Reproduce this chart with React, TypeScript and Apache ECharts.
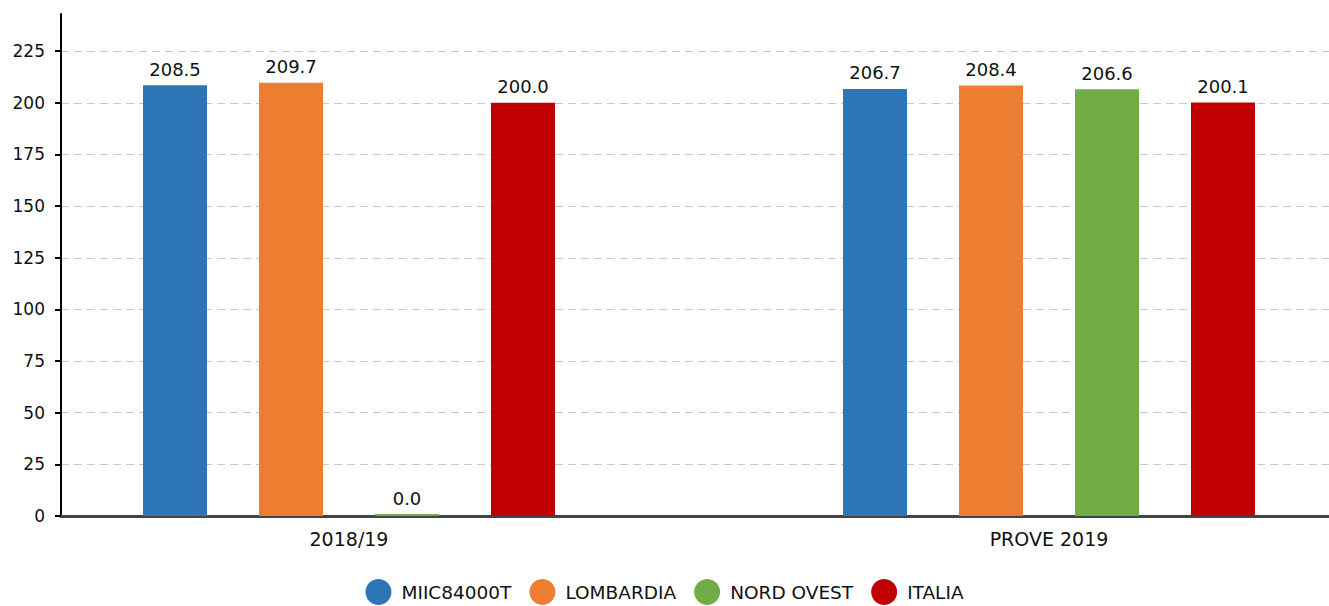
import React, { useEffect, useRef } from "react";
import * as echarts from "echarts";

const categories = ["2018/19", "PROVE 2019"];
const seriesNames = ["MIIC84000T", "LOMBARDIA", "NORD OVEST", "ITALIA"];
const miic = [208.5, 206.7];
const lombardia = [209.7, 208.4];
const nordOvest = [0.0, 206.6];
const italia = [200.0, 200.1];
const yTicks = [0, 25, 50, 75, 100, 125, 150, 175, 200, 225];
const yMax = 243;

const colors = ["#2E75B6", "#ED7D31", "#70AD47", "#C00000"];
const FONT = "DejaVu Sans";

export default function App() {
  const ref = useRef<HTMLDivElement>(null);
  useEffect(() => {
    if (!ref.current) return;
    const chart = echarts.init(ref.current, undefined, { renderer: "svg" });
    const values = [miic, lombardia, nordOvest, italia];
    chart.setOption({
      animation: false,
      backgroundColor: "#ffffff",
      legend: {
        top: 574,
        left: "center",
        icon: "circle",
        itemWidth: 36,
        itemHeight: 26,
        itemGap: 18,
        textStyle: { fontFamily: FONT, fontSize: 18.5, color: "#111" },
        data: seriesNames,
      },
      grid: [
        { left: 61, right: 0, top: 14, bottom: 90, outerBoundsMode: "none" },
        { left: -1, right: -70, top: 14, bottom: 90, outerBoundsMode: "none" },
      ],
      xAxis: [
        {
          type: "value",
          gridIndex: 0,
          min: 0,
          max: 1,
          axisLine: { show: true, onZero: true, lineStyle: { color: "#444", width: 3 } },
          axisTick: { show: false },
          axisLabel: { show: false },
          splitLine: { show: false },
        },
        {
          type: "category",
          gridIndex: 1,
          data: categories,
          axisLine: { show: false },
          axisTick: { show: false },
          axisLabel: {
            margin: 13,
            fontFamily: FONT,
            fontSize: 19,
            color: "#111",
          },
          splitLine: { show: false },
        },
      ],
      yAxis: [
        {
          type: "value",
          gridIndex: 0,
          min: 0,
          max: yMax,
          interval: 25,
          axisLine: { show: true, lineStyle: { color: "#000", width: 2 } },
          axisTick: {
            show: true,
            length: 6,
            lineStyle: { color: "#000", width: 2 },
            customValues: yTicks,
          },
          axisLabel: {
            margin: 16,
            fontFamily: FONT,
            fontSize: 17,
            color: "#111",
            customValues: yTicks,
          },
          splitLine: {
            show: true,
            lineStyle: { color: "#c8c8c8", type: [8, 5], width: 1 },
          },
        },
        {
          type: "value",
          gridIndex: 1,
          min: 0,
          max: yMax,
          show: false,
          splitLine: { show: false },
        },
      ],
      series: seriesNames.map((name, i) => ({
        name,
        type: "bar",
        xAxisIndex: 1,
        yAxisIndex: 1,
        data: values[i],
        barWidth: 64,
        barGap: "81.25%",
        barMinHeight: 2,
        z: 5,
        itemStyle: { color: colors[i] },
        label: {
          show: true,
          position: "top",
          distance: 7,
          fontFamily: FONT,
          fontSize: 18,
          color: "#111",
          formatter: (p: any) => Number(p.value).toFixed(1),
        },
      })),
    });
    return () => chart.dispose();
  }, []);
  return (
    <div
      ref={ref}
      style={{ position: "fixed", left: 0, top: 0, width: 1329, height: 606 }}
    />
  );
}
